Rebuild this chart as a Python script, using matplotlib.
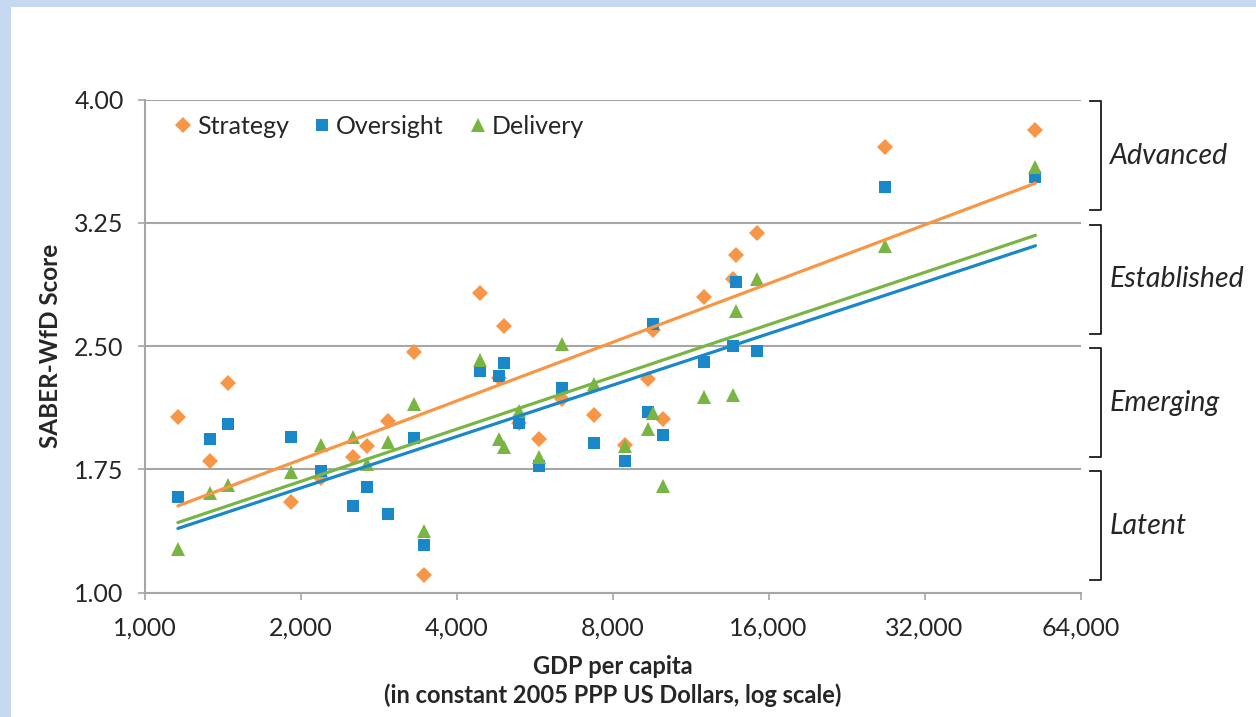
import numpy as np
import matplotlib
matplotlib.use("Agg")
import matplotlib.pyplot as plt
from matplotlib.patches import Rectangle
from matplotlib.ticker import FixedLocator, FixedFormatter, NullLocator

plt.rcParams['font.family'] = ['Lato', 'DejaVu Sans']

# GDP per capita (constant 2005 PPP US$) and SABER-WfD scores per country
gdp = [1160, 1340, 1450, 1920, 2190, 2520, 2690, 2950, 3310, 3460,
       4450, 4830, 4930, 5280, 5760, 6390, 7370, 8460, 9370, 9570,
       10030, 12010, 13660, 13850, 15180, 26800, 52400]
strategy = [2.067, 1.799, 2.277, 1.552, 1.700, 1.824, 1.892, 2.046, 2.462, 1.109,
            2.821, 2.304, 2.622, 2.030, 1.933, 2.180, 2.079, 1.898, 2.298, 2.598,
            2.055, 2.800, 2.906, 3.054, 3.190, 3.709, 3.814]
oversight = [1.580, 1.937, 2.024, 1.947, 1.742, 1.527, 1.645, 1.479, 1.939, 1.292,
             2.347, 2.318, 2.399, 2.035, 1.771, 2.243, 1.909, 1.803, 2.101, 2.634,
             1.957, 2.404, 2.501, 2.888, 2.472, 3.470, 3.527]
delivery = [1.264, 1.605, 1.653, 1.736, 1.898, 1.945, 1.783, 1.918, 2.148, 1.377,
            2.415, 1.933, 1.888, 2.105, 1.827, 2.513, 2.269, 1.892, 1.994, 2.095,
            1.649, 2.192, 2.201, 2.711, 2.906, 3.109, 3.588]

x_ticks = [1000, 2000, 4000, 8000, 16000, 32000, 64000]
x_tick_labels = ["1,000", "2,000", "4,000", "8,000", "16,000", "32,000", "64,000"]
y_ticks = [1.00, 1.75, 2.50, 3.25, 4.00]
y_tick_labels = ["1.00", "1.75", "2.50", "3.25", "4.00"]
levels = ["Latent", "Emerging", "Established", "Advanced"]

ORANGE = "#F79646"
BLUE = "#1A87C9"
GREEN = "#79B543"
GRID = "#A6A6A6"
TEXT = "#262626"

fig = plt.figure(figsize=(12.56, 7.17), dpi=100)
fig.patch.set_facecolor("white")
# light blue frame on the top and left edges
fig.patches.append(Rectangle((0, 0), 11 / 1256, 1, transform=fig.transFigure,
                             facecolor="#C6D9F1", edgecolor="none", zorder=0))
fig.patches.append(Rectangle((0, 1 - 7 / 717), 1, 7 / 717, transform=fig.transFigure,
                             facecolor="#C6D9F1", edgecolor="none", zorder=0))

ax = fig.add_axes([144.5 / 1256, 1 - 592.7 / 717, 936 / 1256, 493.2 / 717])
ax.set_xscale("log", base=2)
ax.set_xlim(1000, 64000)
ax.set_ylim(1.0, 4.0)

# (label, values, marker colour, marker, size, trend-line colour)
series = [
    ("Strategy", strategy, ORANGE, "D", 7.8, ORANGE),
    ("Oversight", oversight, BLUE, "s", 8.6, GREEN),
    ("Delivery", delivery, GREEN, "^", 10.5, BLUE),
]
x = np.array(gdp, dtype=float)
for i, (name, vals, color, marker, ms, tcolor) in enumerate(series):
    ax.plot(x, vals, linestyle="none", marker=marker, markersize=ms,
            color=color, markeredgewidth=0, label=name, zorder=3 + i)

# logarithmic trend lines (y = a + b ln x) over the data range
xs = np.array([x.min(), x.max()])
for i, (name, vals, color, marker, ms, tcolor) in enumerate(series):
    b, a = np.polyfit(np.log(x), np.array(vals), 1)
    ax.plot(xs, a + b * np.log(xs), color=tcolor, linewidth=2.3,
            solid_capstyle="round", zorder=7 + i)

ax.xaxis.set_major_locator(FixedLocator(x_ticks))
ax.xaxis.set_major_formatter(FixedFormatter(x_tick_labels))
ax.xaxis.set_minor_locator(NullLocator())
ax.yaxis.set_major_locator(FixedLocator(y_ticks))
ax.yaxis.set_major_formatter(FixedFormatter(y_tick_labels))

ax.grid(axis="y", color=GRID, linewidth=1.5)
ax.set_axisbelow(True)
for side in ("top", "right"):
    ax.spines[side].set_visible(False)
for side in ("left", "bottom"):
    ax.spines[side].set_color(GRID)
    ax.spines[side].set_linewidth(1.5)
ax.tick_params(axis="both", which="major", direction="out", length=5,
               width=1.2, color=GRID, labelsize=18, labelcolor=TEXT)
ax.tick_params(axis="y", pad=10)
ax.tick_params(axis="x", pad=12)

ax.set_xlabel("GDP per capita\n(in constant 2005 PPP US Dollars, log scale)",
              fontsize=17, fontweight="bold", color=TEXT, labelpad=11,
              linespacing=1.3)
ax.set_ylabel("SABER-WfD Score", fontsize=17.5, fontweight="bold", color=TEXT,
              labelpad=9)

ax.legend(loc="upper left", bbox_to_anchor=(0.009, 1.004), ncol=3, frameon=False,
          fontsize=18, handletextpad=0.05, columnspacing=0.85,
          handlelength=1.0, borderaxespad=0.3, labelcolor=TEXT)

# development-level brackets on the right
trans = ax.get_yaxis_transform()
bx0, bx1 = 1.0101, 1.0224
for k, name in enumerate(levels):
    lo, hi = y_ticks[k], y_ticks[k + 1]
    top, bot = hi - 0.012, lo + 0.075
    ax.plot([bx0, bx1, bx1, bx0], [top, top, bot, bot], transform=trans,
            color="#1A1A1A", linewidth=1.3, clip_on=False, zorder=10)
    ax.text(1.0315, (top + bot) / 2, name, transform=trans, fontsize=20.5,
            style="italic", color=TEXT, ha="left", va="center")

fig.savefig("out.png", dpi=100, facecolor=fig.get_facecolor())
